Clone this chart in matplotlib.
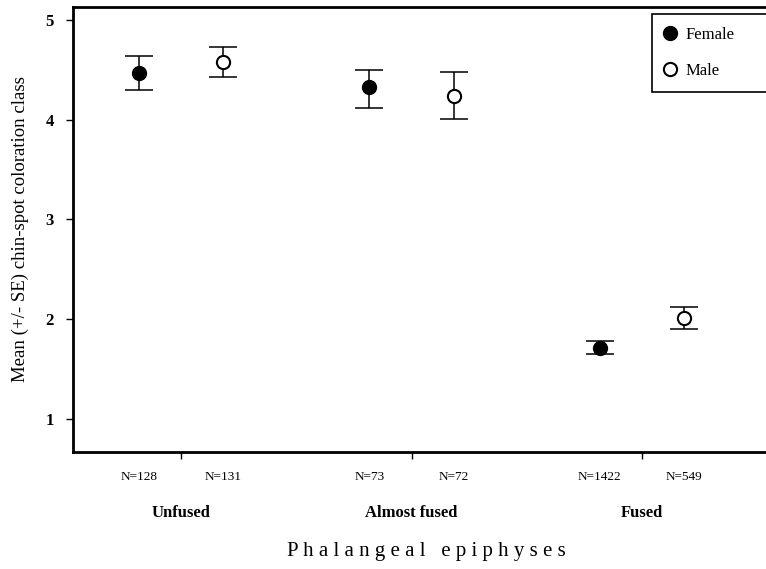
import matplotlib
matplotlib.use("Agg")
import matplotlib.pyplot as plt

plt.rcParams['font.family'] = ['Liberation Serif', 'DejaVu Serif']

stages = ['Unfused', 'Almost fused', 'Fused']
female_mean = [4.465, 4.325, 1.713]
female_lo = [4.295, 4.115, 1.653]
female_hi = [4.636, 4.500, 1.780]
male_mean = [4.576, 4.240, 2.015]
male_lo = [4.430, 4.004, 1.907]
male_hi = [4.726, 4.475, 2.125]
female_n = ['N=128', 'N=73', 'N=1422']
male_n = ['N=131', 'N=72', 'N=549']

off = 0.183
xc = [1, 2, 3]
xf = [x - off for x in xc]
xm = [x + off for x in xc]

fig = plt.figure(figsize=(7.66, 5.69), dpi=100)
ax = fig.add_axes([73 / 766, 117 / 569, (780 - 73) / 766, (452 - 7) / 569])

ferr = [[m - l for m, l in zip(female_mean, female_lo)], [h - m for m, h in zip(female_mean, female_hi)]]
merr = [[m - l for m, l in zip(male_mean, male_lo)], [h - m for m, h in zip(male_mean, male_hi)]]
ax.errorbar(xf, female_mean, yerr=ferr, fmt='none', ecolor='black', elinewidth=1.1, capsize=10, capthick=1.1)
ax.errorbar(xm, male_mean, yerr=merr, fmt='none', ecolor='black', elinewidth=1.1, capsize=10, capthick=1.1)
ax.plot(xf, female_mean, 'o', color='black', markersize=10, linestyle='none', label='Female', zorder=3)
ax.plot(xm, male_mean, 'o', markerfacecolor='white', markeredgecolor='black', markeredgewidth=1.5,
        markersize=9.5, linestyle='none', label='Male', zorder=3)

ax.set_xlim(0.53, 3.6)
ax.set_ylim(0.669, 5.13)

ax.set_yticks([1, 2, 3, 4, 5])
ax.set_yticklabels(['1', '2', '3', '4', '5'], fontweight='bold', fontsize=12)
ax.tick_params(axis='y', direction='out', length=5, width=1, pad=9)

ax.set_xticks(xc)
ax.set_xticklabels(stages, fontweight='bold', fontsize=12)
ax.tick_params(axis='x', which='major', direction='out', length=5, width=1, pad=33)
ax.set_xticks(xf + xm, minor=True)
ax.set_xticklabels(female_n + male_n, minor=True, fontsize=9.5)
ax.tick_params(axis='x', which='minor', length=0, pad=14)

for s in ['left', 'bottom', 'top', 'right']:
    ax.spines[s].set_linewidth(2)

ax.set_ylabel('Mean (+/- SE) chin-spot coloration class', fontsize=13.5, labelpad=12)
ax.set_xlabel(' '.join('Phalangeal') + '   ' + ' '.join('epiphyses'), fontsize=15, labelpad=15)

leg = ax.legend(loc='upper left', bbox_to_anchor=(0.819, 0.985, 0.25, 0.0), mode='expand',
                fontsize=12, frameon=True, fancybox=False, edgecolor='black', framealpha=1,
                borderpad=0.8, handlelength=0.6, handletextpad=0.6, labelspacing=1.2, borderaxespad=0)
leg.get_frame().set_linewidth(1.2)

fig.savefig('out.png', dpi=100)
